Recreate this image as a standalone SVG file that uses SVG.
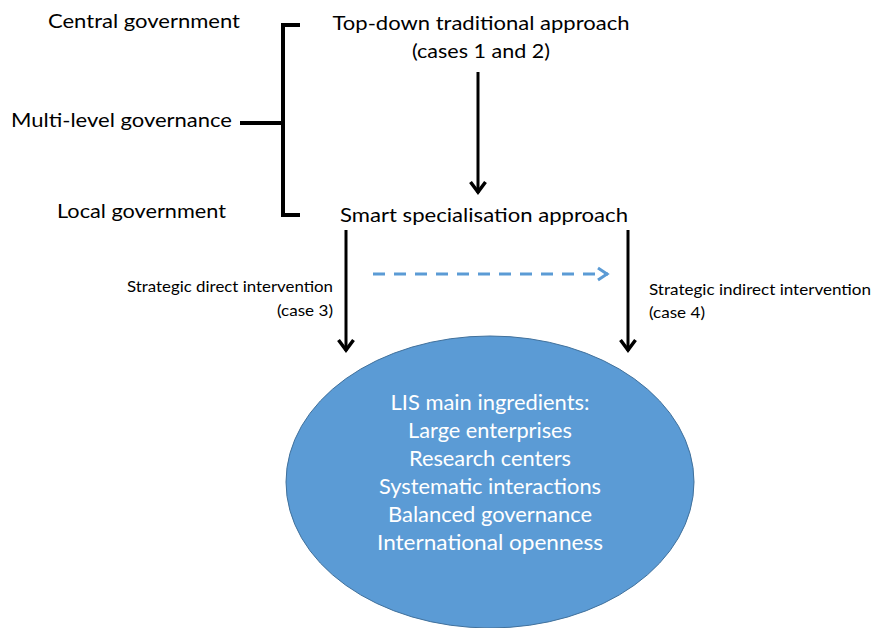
<svg xmlns="http://www.w3.org/2000/svg" width="872" height="628" viewBox="0 0 872 628">
<style>
.t{font-family:Lato,"Open Sans","Liberation Sans",sans-serif;font-size:20px;fill:#000}
.s{font-family:Lato,"Open Sans","Liberation Sans",sans-serif;font-size:15px;fill:#000}
.w{font-family:Lato,"Open Sans","Liberation Sans",sans-serif;font-size:21px;fill:#fff;text-anchor:middle}
.c{stroke:#000;stroke-width:3;fill:none}
</style>
<defs>
<marker id="ah" viewBox="0 0 16 18" refX="14" refY="9" markerWidth="16" markerHeight="18" markerUnits="userSpaceOnUse" orient="auto">
<path d="M3,1.5 L13,9 L3,16.5" fill="none" stroke="#000" stroke-width="3.5"/>
</marker>
<marker id="bh" viewBox="0 0 16 16" refX="14" refY="8" markerWidth="16" markerHeight="16" markerUnits="userSpaceOnUse" orient="auto">
<path d="M4,2 L13,8 L4,14" fill="none" stroke="#5B9BD5" stroke-width="3"/>
</marker>
</defs>
<g id="labels-left">
<text class="t" x="48" y="28" textLength="192" lengthAdjust="spacingAndGlyphs">Central government</text>
<text class="t" x="11" y="127" textLength="221" lengthAdjust="spacingAndGlyphs">Multi-level governance</text>
<text class="t" x="57" y="218" textLength="169" lengthAdjust="spacingAndGlyphs">Local government</text>
</g>
<g id="bracket">
<path d="M300,25 L283,25 L283,215 L300,215 M240,123 L283,123" fill="none" stroke="#000" stroke-width="4"/>
</g>
<g id="top-down">
<text class="t" x="481" y="30" text-anchor="middle" textLength="297" lengthAdjust="spacingAndGlyphs">Top-down traditional approach</text>
<text class="t" x="481" y="58" text-anchor="middle" textLength="138" lengthAdjust="spacingAndGlyphs">(cases 1 and 2)</text>
</g>
<g id="smart">
<text class="t" x="484" y="222" text-anchor="middle" textLength="288" lengthAdjust="spacingAndGlyphs">Smart specialisation approach</text>
</g>
<g id="lis">
<ellipse cx="490" cy="482" rx="204" ry="146" fill="#5B9BD5" stroke="#41719C" stroke-width="1"/>
<text class="w" x="490" y="410" textLength="199" lengthAdjust="spacingAndGlyphs">LIS main ingredients:</text>
<text class="w" x="490" y="438" textLength="164" lengthAdjust="spacingAndGlyphs">Large enterprises</text>
<text class="w" x="490" y="466" textLength="162" lengthAdjust="spacingAndGlyphs">Research centers</text>
<text class="w" x="490" y="494" textLength="222" lengthAdjust="spacingAndGlyphs">Systematic interactions</text>
<text class="w" x="490" y="522" textLength="204" lengthAdjust="spacingAndGlyphs">Balanced governance</text>
<text class="w" x="490" y="550" textLength="226" lengthAdjust="spacingAndGlyphs">International  openness</text>
</g>
<g id="connectors">
<line class="c" x1="478" y1="72" x2="478" y2="193" marker-end="url(#ah)"/>
<line class="c" x1="346" y1="230" x2="346" y2="351" marker-end="url(#ah)"/>
<line class="c" x1="628" y1="230" x2="628" y2="351" marker-end="url(#ah)"/>
<line x1="373" y1="274" x2="608" y2="274" stroke="#5B9BD5" stroke-width="3" stroke-dasharray="12,9" marker-end="url(#bh)"/>
<text class="s" x="333" y="292" text-anchor="end" textLength="206" lengthAdjust="spacingAndGlyphs">Strategic direct intervention</text>
<text class="s" x="333" y="316" text-anchor="end" textLength="56" lengthAdjust="spacingAndGlyphs">(case 3)</text>
<text class="s" x="649" y="295" textLength="222" lengthAdjust="spacingAndGlyphs">Strategic indirect intervention</text>
<text class="s" x="649" y="318" textLength="56" lengthAdjust="spacingAndGlyphs">(case 4)</text>
</g>
</svg>
